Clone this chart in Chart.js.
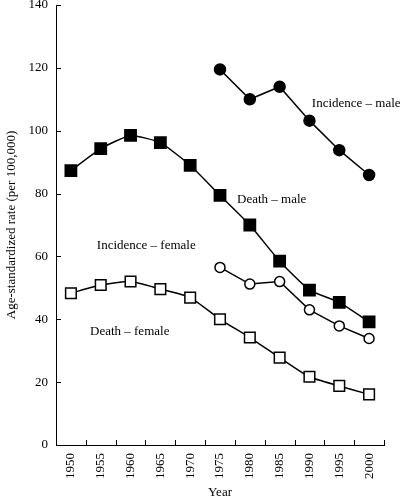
<!DOCTYPE html>
<html>
<head>
<meta charset="utf-8">
<script src="https://cdn.jsdelivr.net/npm/chart.js@4.4.0/dist/chart.umd.min.js"></script>
<style>
  body { margin: 0; background: #fff; }
  #wrap { width: 400px; height: 502px; }
</style>
</head>
<body>
<div id="wrap"><canvas id="grafico"></canvas></div>
<script>
// Datos
const years = ['1950', '1955', '1960', '1965', '1970', '1975', '1980', '1985', '1990', '1995', '2000'];
const incidenceMale = [null, null, null, null, null, 119.5, 110, 114, 103.2, 93.8, 85.9];
const deathMale = [87.3, 94.3, 98.5, 96.2, 89.0, 79.4, 70.0, 58.5, 49.3, 45.4, 39.2];
const incidenceFemale = [null, null, null, null, null, 56.5, 51.2, 52.0, 43.0, 37.9, 33.9];
const deathFemale = [48.3, 50.9, 52.0, 49.6, 46.9, 40.0, 34.2, 27.8, 21.7, 18.8, 16.1];
const yTicks = [0, 20, 40, 60, 80, 100, 120, 140];

// Etiquetas dentro del grafico: [texto, indice de categoria, valor]
const seriesLabels = [
  ['Incidence \u2013 male', 8.08, 108.5],
  ['Death \u2013 male', 5.57, 78],
  ['Incidence \u2013 female', 0.87, 63.3],
  ['Death \u2013 female', 0.64, 36.2]
];

const fuente = { family: '"Liberation Serif", "DejaVu Serif", serif', size: 13 };

// Marcas de los ejes hacia adentro y etiquetas de las series
const extras = {
  id: 'extras',
  afterDraw(chart) {
    const c = chart.ctx;
    const x = chart.scales.x, y = chart.scales.y;
    c.save();
    c.strokeStyle = '#000';
    c.lineWidth = 1;
    c.beginPath();
    for (let i = 1; i <= years.length; i++) {
      const px = Math.round(x.getPixelForValue(i - 0.5)) + 0.5;
      c.moveTo(px, y.bottom);
      c.lineTo(px, y.bottom - 5);
    }
    yTicks.forEach(v => {
      const py = Math.round(y.getPixelForValue(v)) + 0.5;
      c.moveTo(x.left, py);
      c.lineTo(x.left + 5, py);
    });
    c.stroke();
    c.fillStyle = '#000';
    c.font = '13px ' + fuente.family;
    c.textAlign = 'left';
    c.textBaseline = 'middle';
    seriesLabels.forEach(([t, xi, v]) => {
      c.fillText(t, x.getPixelForValue(xi), y.getPixelForValue(v));
    });
    c.restore();
  }
};

function serie(label, data, style, filled, radius, tension) {
  return {
    label: label,
    data: data,
    borderColor: '#000',
    borderWidth: 1.5,
    tension: tension,
    spanGaps: false,
    pointStyle: style,
    pointRadius: radius,
    pointHoverRadius: radius,
    pointBorderWidth: 1.5,
    pointBorderColor: '#000',
    pointBackgroundColor: filled ? '#000' : '#fff'
  };
}

const ctx = document.getElementById('grafico').getContext('2d');
const miGrafico = new Chart(ctx, {
  type: 'line',
  data: {
    labels: years,
    datasets: [
      serie('Incidence - male', incidenceMale, 'circle', true, 5.5, 0),
      serie('Death - male', deathMale, 'rect', true, 8, 0.15),
      serie('Incidence - female', incidenceFemale, 'circle', false, 5, 0),
      serie('Death - female', deathFemale, 'rect', false, 7.5, 0.2)
    ]
  },
  options: {
    responsive: true,
    maintainAspectRatio: false,
    animation: false,
    layout: { autoPadding: false, padding: { top: 5, right: 16, left: 0, bottom: 0 } },
    plugins: { legend: { display: false }, tooltip: { enabled: false } },
    scales: {
      x: {
        type: 'category',
        offset: true,
        grid: { display: false, drawTicks: false },
        border: { display: true, color: '#000', width: 1 },
        ticks: { color: '#000', font: fuente, minRotation: 90, maxRotation: 90, padding: 8, autoSkip: false },
        title: { display: true, text: 'Year', color: '#000', font: fuente, padding: { top: 0, bottom: 2 } },
        afterFit(s) { s.height = 57; s.paddingLeft = 0; s.paddingRight = 0; }
      },
      y: {
        min: 0,
        max: 140,
        grid: { display: false, drawTicks: false },
        border: { display: true, color: '#000', width: 1 },
        ticks: { stepSize: 20, color: '#000', font: fuente, padding: 8 },
        title: { display: true, text: 'Age-standardized rate (per 100,000)', color: '#000', font: fuente, padding: { top: 4, bottom: 0 } },
        afterFit(s) { s.width = 56; s.paddingTop = 0; s.paddingBottom = 0; }
      }
    }
  },
  plugins: [extras]
});
</script>
</body>
</html>
